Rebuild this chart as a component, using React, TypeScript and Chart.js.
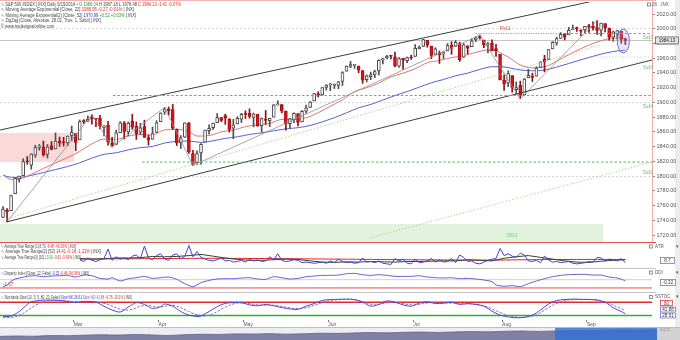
import React, { useEffect, useRef } from 'react';
import { Chart, registerables } from 'chart.js';

Chart.register(...registerables);

// ---------------- DATA ----------------
const MONTH_LABELS = ['Mar', 'Apr', 'May', 'Jun', 'Jul', 'Aug', 'Sep'];
const MONTH_START_INDEX = [18, 39, 60, 81, 102, 124, 145];

const OPEN = [
  1743.82,1753.38,1752.99,1776.01,1796.20,1800.45,1820.12,1814.82,1828.46,1839.03,
  1838.90,1829.24,1841.07,1836.78,1847.66,1845.79,1844.90,1855.12,1857.68,1849.23,
  1874.05,1874.18,1878.52,1877.86,1878.26,1866.15,1869.06,1845.07,1842.81,1858.92,
  1872.25,1860.09,1874.53,1867.67,1859.48,1867.09,1852.11,1850.07,1859.16,1873.96,
  1886.61,1891.43,1890.25,1863.92,1845.48,1852.64,1872.28,1830.65,1818.18,1831.45,
  1846.01,1861.73,1865.79,1872.57,1879.32,1881.97,1877.72,1865.00,1870.78,1877.10,
  1884.39,1885.30,1879.45,1883.69,1868.53,1877.39,1875.27,1880.03,1896.75,1897.13,
  1888.16,1871.19,1876.66,1884.88,1873.34,1888.19,1893.32,1902.01,1911.77,1910.60,
  1920.33,1923.87,1923.07,1923.06,1928.52,1942.41,1948.97,1950.34,1949.37,1943.35,
  1930.80,1934.84,1937.15,1942.73,1957.50,1960.45,1962.92,1961.97,1949.27,1959.89,
  1956.56,1960.79,1962.29,1973.06,1975.88,1984.22,1976.39,1965.10,1966.67,1965.76,
  1969.86,1977.36,1976.35,1979.75,1961.54,1976.93,1975.65,1985.32,1988.07,1984.60,
  1978.25,1980.03,1973.21,1965.14,1929.80,1926.62,1936.34,1917.29,1923.03,1910.35,
  1933.43,1935.73,1935.60,1947.41,1958.87,1958.36,1972.73,1980.46,1986.82,1992.60,
  1991.74,1998.59,2000.54,1997.42,1998.45,2004.07,2003.57,2001.67,1998.00,2007.17,
  2000.73,1988.41,1992.85,1996.74,1986.04,
];
const HIGH = [
  1758.73,1755.79,1774.06,1798.03,1799.94,1823.54,1826.55,1830.25,1841.65,1842.87,
  1847.50,1842.79,1846.87,1858.71,1852.91,1852.65,1854.53,1867.92,1857.68,1876.23,
  1876.53,1881.94,1883.57,1877.87,1882.35,1868.38,1874.40,1852.44,1862.30,1873.76,
  1874.14,1873.49,1883.97,1873.34,1871.87,1875.92,1855.55,1866.63,1875.18,1885.84,
  1893.17,1893.80,1897.28,1864.04,1854.95,1872.43,1872.53,1835.07,1834.19,1844.02,
  1862.31,1869.63,1871.89,1884.89,1879.75,1884.06,1877.72,1877.01,1880.60,1885.20,
  1888.59,1891.33,1885.51,1883.69,1878.83,1889.07,1878.57,1897.13,1902.17,1897.13,
  1888.16,1878.28,1886.00,1884.88,1888.80,1896.33,1901.26,1912.28,1914.46,1920.03,
  1924.03,1925.88,1925.07,1928.63,1941.74,1949.44,1955.55,1950.86,1949.37,1943.35,
  1937.30,1941.15,1943.69,1957.74,1959.87,1963.91,1963.74,1968.17,1960.83,1959.89,
  1961.47,1964.24,1978.58,1976.67,1985.59,1984.22,1976.39,1974.15,1969.84,1968.67,
  1979.85,1982.52,1983.94,1981.80,1979.91,1976.93,1986.24,1989.23,1991.39,1984.60,
  1981.52,1984.85,1978.90,1965.14,1937.35,1942.92,1936.34,1927.91,1928.89,1932.38,
  1944.90,1939.65,1948.41,1955.23,1964.04,1971.99,1982.57,1988.57,1994.76,1993.54,
  2001.95,2005.04,2002.14,1998.55,2003.38,2006.12,2009.28,2011.17,2007.71,2007.17,
  2001.01,1996.66,1997.65,1996.74,1987.18,
];
const LOW = [
  1743.82,1737.92,1752.99,1776.01,1791.83,1800.41,1815.97,1809.22,1825.59,1835.01,
  1826.99,1824.58,1835.60,1836.78,1840.19,1840.66,1841.13,1847.67,1834.44,1849.23,
  1871.11,1874.18,1870.56,1867.04,1863.88,1854.38,1841.86,1839.57,1842.81,1858.92,
  1850.35,1854.63,1863.46,1849.69,1855.96,1852.56,1842.11,1850.07,1859.16,1873.96,
  1883.79,1882.65,1863.26,1841.48,1837.49,1852.38,1830.87,1814.36,1815.80,1816.29,
  1846.01,1856.72,1863.18,1872.57,1873.91,1870.24,1859.70,1850.61,1870.78,1872.69,
  1878.04,1878.50,1866.77,1867.72,1859.79,1870.05,1867.02,1880.03,1896.06,1885.77,
  1862.36,1864.82,1872.42,1868.14,1873.34,1885.39,1893.32,1902.01,1907.30,1909.82,
  1916.64,1915.98,1918.79,1918.60,1922.93,1942.41,1947.16,1946.07,1940.08,1925.78,
  1927.69,1930.91,1933.55,1937.29,1952.26,1959.17,1958.89,1948.34,1947.49,1944.69,
  1953.83,1958.22,1962.29,1972.58,1975.88,1974.88,1959.46,1965.10,1952.86,1959.63,
  1969.86,1965.34,1975.67,1955.59,1960.82,1965.77,1975.65,1982.44,1985.79,1974.37,
  1967.31,1969.95,1962.42,1930.67,1916.37,1921.20,1913.77,1911.45,1904.78,1909.01,
  1933.43,1928.29,1935.60,1947.41,1941.50,1958.36,1972.73,1977.68,1986.82,1984.76,
  1991.74,1998.59,1996.20,1990.52,1994.65,1994.85,1998.14,1992.44,1990.10,1995.60,
  1984.61,1982.99,1985.93,1980.26,1978.48,
];
const CLOSE = [
  1755.20,1751.64,1773.43,1797.02,1799.84,1819.75,1819.26,1829.83,1838.63,1840.76,
  1828.75,1839.78,1836.25,1847.61,1845.12,1845.16,1854.29,1859.45,1845.73,1873.91,
  1873.81,1877.03,1878.04,1877.17,1867.63,1868.20,1846.34,1841.13,1858.83,1872.25,
  1860.77,1872.01,1866.52,1857.44,1865.62,1852.56,1849.04,1857.62,1872.34,1885.52,
  1890.90,1888.77,1865.09,1845.04,1851.96,1872.18,1833.08,1815.69,1830.61,1842.98,
  1862.31,1864.85,1871.89,1879.55,1875.39,1878.61,1863.40,1869.43,1878.33,1883.95,
  1883.68,1881.14,1884.66,1867.72,1878.21,1875.63,1878.48,1896.65,1897.45,1888.53,
  1870.85,1877.86,1885.08,1872.83,1888.03,1892.49,1900.53,1911.91,1909.78,1920.03,
  1923.57,1924.97,1924.24,1927.88,1940.46,1949.44,1951.27,1950.79,1943.89,1930.11,
  1936.16,1937.78,1941.99,1956.98,1959.48,1962.87,1962.61,1949.98,1959.53,1957.22,
  1960.96,1960.23,1973.32,1974.62,1985.44,1977.65,1963.71,1972.83,1964.68,1967.57,
  1977.10,1973.28,1981.57,1958.12,1978.22,1973.63,1983.53,1987.01,1987.98,1978.34,
  1978.91,1969.95,1970.07,1930.67,1925.15,1938.99,1920.21,1920.24,1909.57,1931.59,
  1936.92,1933.75,1946.72,1955.18,1955.06,1971.74,1981.60,1986.51,1992.37,1988.40,
  1997.92,2000.02,2000.12,1996.74,2003.37,2002.28,2000.72,1997.65,2007.71,2001.54,
  1988.44,1995.69,1997.45,1985.54,1984.13,
];

// [bar index, value]
const EMA22 = [
  [0,1801.6],[2,1795.2],[4,1795.8],[7,1802.4],[10,1810.4],[13,1817.8],[16,1825.1],[19,1833.5],
  [22,1843.8],[25,1850.2],[28,1849.9],[31,1854.3],[34,1856.4],[37,1855.7],[40,1862.7],[43,1863.3],
  [46,1860.5],[48,1854.3],[51,1855.0],[54,1860.0],[57,1862.4],[60,1867.2],[63,1869.6],[66,1871.5],
  [69,1876.9],[72,1877.2],[75,1879.1],[78,1886.0],[81,1894.8],[84,1903.5],[87,1914.7],[90,1919.9],
  [93,1926.2],[96,1934.7],[99,1939.7],[102,1945.8],[105,1953.8],[108,1957.0],[111,1960.8],[114,1963.6],
  [117,1967.9],[120,1971.2],[122,1971.0],[123,1967.5],[125,1961.7],[128,1950.9],[131,1946.9],[134,1948.2],
  [137,1955.9],[140,1964.8],[143,1973.0],[146,1979.9],[149,1985.3],[152,1987.4],[154,1986.95],
];
const EMA52 = [
  [0,1801.2],[2,1798.3],[4,1798.3],[7,1801.0],[10,1804.8],[13,1808.8],[16,1813.0],[19,1818.1],
  [22,1824.4],[25,1829.5],[28,1831.6],[31,1835.6],[34,1838.6],[37,1840.2],[40,1844.8],[43,1847.1],
  [46,1847.6],[49,1845.7],[52,1847.9],[55,1851.2],[58,1853.3],[61,1856.5],[64,1858.7],[67,1861.5],
  [70,1864.1],[73,1865.7],[76,1868.7],[79,1873.6],[82,1879.2],[85,1885.8],[88,1892.6],[91,1897.2],
  [94,1903.3],[97,1909.3],[100,1914.7],[103,1920.7],[106,1926.6],[109,1931.1],[112,1936.1],[115,1939.8],
  [118,1944.8],[121,1948.4],[123,1948.5],[125,1947.3],[128,1944.0],[131,1942.9],[134,1943.9],[137,1947.9],
  [140,1952.8],[143,1957.8],[146,1962.6],[149,1966.9],[152,1969.9],[154,1970.99],
];

const ATR1_START = 19;
const ATR1 = [
  14,11,17,13,11,14,16,32,13,19,
  15,17,14,20,22,16,37,17,14,21,
  24,15,13,22,24,15,20,38,19,28,
  18,15,13,12,14,17,12,13,10,11,
  13,10,15,12,14,11,12,19,14,24,
  13,11,12,14,13,9,10,9,8,9,
  10,8,12,9,15,11,9,10,8,9,
  17,10,11,9,12,8,7,6,16,12,
  15,8,7,15,9,10,12,16,10,14,
  10,11,16,9,22,18,11,12,8,7,
  10,13,15,16,33,21,24,20,18,25,
  22,12,11,13,9,20,14,10,11,9,
  10,11,8,7,8,9,11,10,18,17,
  12,15,14,12,16,8.7,
];
const ATR10 = [
  [19,16],[22,15],[25,15.5],[28,17],[31,17],[34,17.5],[37,19.5],[40,19],[43,19.5],[46,21],
  [49,23],[52,20],[55,17],[58,14.5],[61,13],[64,13],[67,14],[70,15],[73,14.5],[76,12],
  [79,10],[82,9.5],[85,10.5],[88,10],[91,11],[94,10.5],[97,10],[100,11],[103,11],[106,11.5],
  [109,12],[112,12],[115,14],[118,13],[121,12],[124,16.5],[127,19],[130,21],[133,18],[136,15],
  [139,12],[142,10],[145,9.5],[148,11.5],[151,13],[154,13.9],
];
const ATR52 = [
  [19,15.2],[35,15.8],[50,16.4],[65,16.0],[80,15.2],[95,14.3],[110,13.6],[122,13.4],[132,14.2],[145,14.5],[154,14.41],
];

const DISPARITY = [
  [0,-2.2],[1,-1.6],[2,-0.5],[3,0.2],[4,0.5],[6,1.0],[8,1.2],[10,0.9],[12,1.1],[14,1.2],
  [16,1.3],[18,0.8],[20,1.4],[22,1.2],[24,0.4],[26,0.2],[27,0.6],[29,-0.4],[31,0.3],[33,0.6],
  [35,1.0],[37,0.4],[39,0.6],[41,0.8],[43,0.1],[45,-1.2],[47,-2.1],[49,-0.9],[51,-0.2],[53,0.2],
  [55,0.3],[57,0.3],[59,0.5],[61,0.6],[63,0.2],[65,0.1],[67,0.9],[69,0.6],[71,0.2],[73,0.4],
  [75,0.9],[77,1.1],[79,1.3],[81,1.3],[83,1.4],[85,1.8],[87,1.9],[89,1.5],[91,1.3],[93,1.5],
  [95,1.3],[97,1.0],[99,1.0],[101,1.0],[103,1.2],[105,0.8],[107,0.6],[109,0.5],[111,0.6],[113,0.3],
  [115,0.4],[117,0.2],[119,-0.1],[121,-0.6],[122,-1.6],[124,-2.0],[126,-1.8],[128,-2.1],[130,-1.2],[132,-0.4],
  [134,0.3],[136,0.9],[138,1.3],[140,1.5],[142,1.6],[144,1.6],[146,1.4],[148,1.4],[150,0.8],[152,0.5],[154,-0.3],
];
const DISP_LOWER = -2.5;

const STOCH_K = [
  [0,15],[2,18],[4,38],[6,70],[7,82],[9,88],[12,90],[15,86],[18,78],[20,84],
  [23,80],[25,62],[27,45],[29,36],[31,58],[33,78],[35,70],[37,52],[39,60],[40,72],
  [42,62],[44,38],[46,22],[48,16],[49,18],[51,38],[53,60],[55,75],[57,78],[59,78],
  [61,68],[63,64],[65,70],[67,64],[69,56],[71,50],[73,48],[75,62],[77,74],[79,88],
  [81,92],[83,93],[85,94],[87,92],[89,80],[91,62],[93,70],[95,86],[97,80],[99,68],
  [101,62],[103,76],[105,82],[107,74],[109,76],[111,80],[113,70],[115,74],[117,70],[119,62],
  [121,40],[123,22],[125,14],[127,10],[129,12],[131,22],[133,45],[135,72],[137,88],[139,92],
  [141,94],[143,93],[145,92],[147,90],[149,80],[151,55],[153,38],[154,28.61],
];
const STOCH_D = [
  [0,10],[3,14],[5,30],[7,55],[9,75],[11,85],[14,88],[17,84],[20,82],[23,82],
  [26,70],[28,55],[30,45],[32,48],[34,62],[36,66],[38,58],[40,62],[42,66],[44,55],
  [46,38],[48,24],[50,18],[52,28],[54,48],[56,66],[58,76],[60,76],[62,70],[64,67],
  [66,67],[68,64],[70,58],[72,52],[74,52],[76,60],[78,72],[80,84],[82,90],[84,92],
  [86,93],[88,88],[90,76],[92,68],[94,74],[96,80],[98,78],[100,70],[102,68],[104,74],
  [106,78],[108,76],[110,76],[112,76],[114,73],[116,72],[118,68],[120,58],[122,42],[124,26],
  [126,16],[128,12],[130,14],[132,24],[134,44],[136,66],[138,82],[140,90],[142,92],[144,93],
  [146,92],[148,87],[150,75],[152,58],[154,41.88],
];
const STOCH_UPPER = 80;
const STOCH_LOWER = 20;

const NAV_VALUES = [
  28,31,29,34,33,37,40,38,42,39,35,41,44,43,47,46,49,45,48,52,
  51,54,57,55,59,61,58,62,65,63,67,69,66,70,72,71,74,76,75,78,
];
const NAV_WINDOW_START = 32.95;

// annotations, in data units [bar index, price]
const CHANNEL_UPPER = [[-0.74, 1862.5], [160.6, 2055]];
const CHANNEL_LOWER = [[1, 1737.9], [160.6, 1957.6]];
const TREND_DOTTED = [
  [[0, 1740.4], [147.8, 1977.9]],
  [[90.8, 1716], [160.6, 1819]],
];
const ZIGZAG = [[1,1737.92],[22,1883.57],[27,1839.57],[40,1893.17],[47,1814.36],[118,1991.39],[128,1904.78],[147,2011.17]];
const LEVELS = [
  { name: 'Rd1', price: 1993.5, from: 117, to: 140.5, kind: 'res' },
  { name: 'Sd1', price: 1993.5, from: 140.5, to: 160.6, kind: 'sup' },
  { name: 'Sd3', price: 1961.6, from: 146.5, to: 160.6, kind: 'minor' },
  { name: 'Sd4', price: 1909.4, from: 27.2, to: 160.6, kind: 'sup' },
  { name: 'Sd2', price: 1819.0, from: 34.4, to: 160.6, kind: 'sup' },
];
const PINK_ZONE = { from: -0.74, to: 17.6, top: 1858.5, bottom: 1819 };
const GREEN_ZONE = { from: -0.74, to: 148.5, top: 1735, bottom: 1700, label: 'SBD1', labelAt: 126 };
const ELLIPSE = { x: 153.5, p: 1983.4, rx: 1.5, rp: 16.3 };

// ---------------- STYLE / LAYOUT ----------------
const X_MIN = -0.74;
const X_MAX = 160.6;
const P_MIN = 1710.5;
const P_MAX = 2036.3;
const FONT = "'Liberation Sans', Arial, sans-serif";
const C_DARK = '#444444';
const C_RED = '#e02a2a';
const C_GREEN = '#2f9a2f';
const C_BLUE = '#3434d0';
const C_PURPLE = '#8a4fc4';

type Seg = [string, string];

function drawSegs(ctx: any, x: number, y: number, segs: Seg[], size: number, width?: number) {
  ctx.save();
  ctx.font = `${size}px ${FONT}`;
  ctx.textBaseline = 'middle';
  ctx.textAlign = 'left';
  let total = 0;
  segs.forEach((s) => { total += ctx.measureText(s[0]).width; });
  const k = width ? width / total : 1;
  ctx.translate(x, y);
  ctx.scale(k, 1);
  let cx = 0;
  segs.forEach(([t, c]) => {
    ctx.fillStyle = c;
    ctx.fillText(t, cx, 0);
    cx += ctx.measureText(t).width;
  });
  ctx.restore();
}

function polyline(ctx: any, X: any, Y: any, pts: number[][], color: string, width: number, dash: number[] = []) {
  ctx.save();
  ctx.strokeStyle = color;
  ctx.lineWidth = width;
  ctx.setLineDash(dash);
  ctx.beginPath();
  pts.forEach(([i, p], k) => {
    if (k === 0) ctx.moveTo(X(i), Y(p));
    else ctx.lineTo(X(i), Y(p));
  });
  ctx.stroke();
  ctx.restore();
}

function axisTag(ctx: any, y: number, label: string) {
  ctx.save();
  ctx.strokeStyle = '#777';
  ctx.lineWidth = 0.8;
  ctx.strokeRect(649.5, y - 1.5, 3, 3);
  ctx.font = `4.5px ${FONT}`;
  ctx.fillStyle = '#555';
  ctx.textBaseline = 'middle';
  ctx.fillText(label, 655, y);
  ctx.fillText('\u25BE', 676, y);
  ctx.restore();
}

function valueBox(ctx: any, x: number, y: number, w: number, h: number, text: string, stroke: string, textColor = '#333', fill = '#ffffff') {
  ctx.save();
  ctx.fillStyle = fill;
  ctx.fillRect(x, y, w, h);
  ctx.strokeStyle = stroke;
  ctx.lineWidth = 0.8;
  ctx.strokeRect(x + 0.5, y + 0.5, w - 1, h - 1);
  ctx.font = `4.5px ${FONT}`;
  ctx.fillStyle = textColor;
  ctx.textAlign = 'center';
  ctx.textBaseline = 'middle';
  ctx.fillText(text, x + w / 2, y + h / 2 + 0.3);
  ctx.restore();
}

const baseOptions = (padRight: number) => ({
  responsive: false,
  animation: false,
  devicePixelRatio: 1,
  events: [],
  layout: { padding: { left: 0, right: padRight, top: 0, bottom: 0 } },
  plugins: { legend: { display: false }, tooltip: { enabled: false } },
});

const hiddenX = () => ({ type: 'linear', min: X_MIN, max: X_MAX, offset: false, display: false });

// ---------------- PRICE PANEL ----------------
const priceDeco = {
  id: 'priceDeco',
  beforeDatasetsDraw(chart: any) {
    const { ctx, chartArea: a, scales } = chart;
    const X = (v: number) => scales.x.getPixelForValue(v);
    const Y = (v: number) => scales.y.getPixelForValue(v);
    ctx.save();
    ctx.beginPath();
    ctx.rect(a.left, a.top, a.right - a.left, a.bottom - a.top);
    ctx.clip();
    ctx.fillStyle = '#f9d9d9';
    ctx.fillRect(X(PINK_ZONE.from), Y(PINK_ZONE.top), X(PINK_ZONE.to) - X(PINK_ZONE.from), Y(PINK_ZONE.bottom) - Y(PINK_ZONE.top));
    ctx.fillStyle = '#e3f2df';
    ctx.fillRect(X(GREEN_ZONE.from), Y(GREEN_ZONE.top), X(GREEN_ZONE.to) - X(GREEN_ZONE.from), Y(GREEN_ZONE.bottom) - Y(GREEN_ZONE.top));
    ctx.font = `4.5px ${FONT}`;
    ctx.fillStyle = '#8ccc8c';
    ctx.textAlign = 'center';
    ctx.textBaseline = 'middle';
    ctx.fillText(GREEN_ZONE.label, X(GREEN_ZONE.labelAt), Y(1718.5));
    // last price line
    const ly = Math.round(Y(CLOSE[CLOSE.length - 1])) + 0.5;
    ctx.strokeStyle = '#c4c4c4';
    ctx.lineWidth = 1;
    ctx.beginPath();
    ctx.moveTo(a.left, ly);
    ctx.lineTo(a.right, ly);
    ctx.stroke();
    ctx.restore();
  },
  afterDatasetsDraw(chart: any) {
    const { ctx, chartArea: a, scales } = chart;
    const X = (v: number) => scales.x.getPixelForValue(v);
    const Y = (v: number) => scales.y.getPixelForValue(v);
    ctx.save();
    ctx.beginPath();
    ctx.rect(a.left, a.top, a.right - a.left, a.bottom - a.top);
    ctx.clip();
    TREND_DOTTED.forEach((l) => polyline(ctx, X, Y, l, '#9fcf8c', 1, [1.2, 1.8]));
    polyline(ctx, X, Y, ZIGZAG, '#909090', 0.8);
    polyline(ctx, X, Y, CHANNEL_UPPER, '#3c3c3c', 1);
    polyline(ctx, X, Y, CHANNEL_LOWER, '#3c3c3c', 1);
    LEVELS.forEach((lv) => {
      const pts = [[lv.from, lv.price], [lv.to, lv.price]];
      if (lv.kind === 'res') polyline(ctx, X, Y, pts, '#e36a6a', 1, [1, 1.5]);
      else if (lv.kind === 'minor') polyline(ctx, X, Y, pts, '#a6d8a0', 1, [1, 1.8]);
      else polyline(ctx, X, Y, pts, '#5cb85c', 1, [2.5, 2]);
    });
    // ellipse highlight
    ctx.beginPath();
    ctx.ellipse(X(ELLIPSE.x), Y(ELLIPSE.p), X(ELLIPSE.x + ELLIPSE.rx) - X(ELLIPSE.x), Y(ELLIPSE.p) - Y(ELLIPSE.p + ELLIPSE.rp), 0, 0, Math.PI * 2);
    ctx.fillStyle = 'rgba(160,170,235,0.28)';
    ctx.fill();
    ctx.strokeStyle = '#6a74cf';
    ctx.lineWidth = 1;
    ctx.stroke();
    ctx.restore();
  },
  afterDraw(chart: any) {
    const { ctx, chartArea: a, scales } = chart;
    const X = (v: number) => scales.x.getPixelForValue(v);
    const Y = (v: number) => scales.y.getPixelForValue(v);
    ctx.save();
    ctx.strokeStyle = '#f0b4b4';
    ctx.lineWidth = 1;
    ctx.beginPath();
    ctx.moveTo(0, 0.5);
    ctx.lineTo(656, 0.5);
    ctx.stroke();
    ctx.restore();
    drawSegs(ctx, 1, 4.5, [['\u223F ', '#777'], ['S&P 500 INDEX [.INX] Daily 9/15/2014 ', C_DARK], ['\u2022 O 1986.04 ', C_GREEN], ['H 1987.18 L 1978.48 ', C_DARK], ['C 1984.13 -1.41 -0.07%', C_RED]], 5, 180);
    drawSegs(ctx, 1, 10, [['\u223F ', '#777'], ['Moving Average Exponential [Close, 22] ', C_DARK], ['1986.95 -0.27 -0.01% ', C_RED], ['[.INX]', C_DARK]], 5, 133);
    drawSegs(ctx, 1, 15.5, [['\u223F ', '#777'], ['Moving Average Exponential(2) [Close, 52] ', C_DARK], ['1970.99 ', C_BLUE], ['+0.52 +0.03% ', C_GREEN], ['[.INX]', C_DARK]], 5, 135);
    drawSegs(ctx, 1, 21, [['\u223F ', '#777'], ['ZigZag [Close, Absolute, 28.02, True, 1, Solid] [.INX]', C_DARK]], 5, 100);
    drawSegs(ctx, 1, 26.5, [['\u00A9 www.tradesignalonline.com', C_DARK]], 5, 53);
    // right axis header
    ctx.save();
    ctx.strokeStyle = '#777';
    ctx.lineWidth = 0.8;
    ctx.strokeRect(647.5, 3, 3, 3);
    ctx.font = `4.5px ${FONT}`;
    ctx.fillStyle = '#555';
    ctx.textBaseline = 'middle';
    ctx.fillText('26', 652, 4.5);
    ctx.fillText('.INX', 660, 4.5);
    ctx.restore();
    // last price box
    const ly = Y(CLOSE[CLOSE.length - 1]);
    valueBox(ctx, a.right + 3, ly - 4, 24, 8, CLOSE[CLOSE.length - 1].toFixed(2), '#666', '#222', '#e4e4e4');
    // level labels
    ctx.save();
    ctx.font = `6px ${FONT}`;
    ctx.textBaseline = 'middle';
    LEVELS.forEach((lv) => {
      if (lv.kind === 'res') {
        ctx.fillStyle = '#e05a5a';
        ctx.textAlign = 'center';
        ctx.fillText(lv.name, X(124.3), Y(lv.price) - 5);
      } else {
        ctx.fillStyle = '#6cc06c';
        ctx.textAlign = 'right';
        ctx.fillText(lv.name, a.right + 1.5, Y(lv.price) + (lv.name === 'Sd1' ? 3.8 : 10.5));
      }
    });
    ctx.restore();
  },
};

function buildPrice(canvas: HTMLCanvasElement) {
  const up = CLOSE.map((c, i) => c >= OPEN[i]);
  return new Chart(canvas, {
    type: 'bar',
    data: {
      datasets: [
        { type: 'line', data: EMA22.map(([x, y]) => ({ x, y })), borderColor: '#e57372', borderWidth: 1, pointRadius: 0, cubicInterpolationMode: 'monotone', order: 5 },
        { type: 'line', data: EMA52.map(([x, y]) => ({ x, y })), borderColor: '#5b5ed6', borderWidth: 1, pointRadius: 0, cubicInterpolationMode: 'monotone', order: 6 },
        {
          type: 'bar',
          data: OPEN.map((o, i) => ({ x: i, y: [o, CLOSE[i]] })),
          backgroundColor: up.map((u) => (u ? '#ffffff' : '#d3161d')),
          borderColor: up.map((u) => (u ? '#4a4a4a' : '#a90f15')),
          borderWidth: 1,
          borderSkipped: false,
          barThickness: 3,
          grouped: false,
          minBarLength: 1,
          order: 1,
        },
        {
          type: 'bar',
          data: LOW.map((l, i) => ({ x: i, y: [l, HIGH[i]] })),
          backgroundColor: up.map((u) => (u ? '#505050' : '#8c1015')),
          borderWidth: 0,
          barThickness: 1,
          grouped: false,
          order: 2,
        },
      ],
    },
    options: {
      ...baseOptions(0),
      layout: { padding: { left: 0, right: 0, top: 2, bottom: 0 } },
      scales: {
        x: hiddenX(),
        y: {
          type: 'linear',
          position: 'right',
          min: P_MIN,
          max: P_MAX,
          beginAtZero: false,
          afterFit: (s: any) => { s.width = 28; s.paddingTop = 0; s.paddingBottom = 0; },
          ticks: {
            stepSize: 20,
            maxTicksLimit: 30,
            includeBounds: false,
            autoSkip: false,
            padding: 1.5,
            color: '#555',
            font: { size: 5.5, family: FONT },
            callback: (v: any) => Number(v).toFixed(2),
          },
          grid: {
            color: (c: any) => (c.tick && Math.round(c.tick.value) % 100 === 0 ? '#d6d6d6' : 'rgba(0,0,0,0)'),
            tickColor: '#888',
            tickLength: 3,
            lineWidth: 1,
          },
          border: { display: true, color: '#f0a8a8', dash: [2, 2] },
        },
      },
    } as any,
    plugins: [priceDeco],
  } as any);
}

// ---------------- LOWER PANELS ----------------
function panelDeco(key: string, cfg: any) {
  return {
    id: 'deco_' + key,
    beforeDatasetsDraw(chart: any) {
      const { ctx, chartArea: a, scales } = chart;
      cfg.levels.forEach((l: any) => {
        const y = scales.y.getPixelForValue(l.value);
        ctx.save();
        ctx.strokeStyle = l.color;
        ctx.lineWidth = l.width;
        ctx.beginPath();
        ctx.moveTo(a.left, y);
        ctx.lineTo(a.right, y);
        ctx.stroke();
        ctx.restore();
      });
    },
    afterDraw(chart: any) {
      const { ctx } = chart;
      ctx.save();
      ctx.strokeStyle = cfg.sepColor;
      ctx.lineWidth = 1;
      ctx.beginPath();
      ctx.moveTo(0, 0.5);
      ctx.lineTo(656, 0.5);
      ctx.stroke();
      ctx.restore();
      cfg.titles.forEach((t: any) => drawSegs(ctx, 1, t.y, t.segs, 5, t.w));
      cfg.right(ctx);
    },
  };
}

const lineDs = (pts: number[][], color: string, width = 1, dash: number[] = []) => ({
  data: pts.map(([x, y]) => ({ x, y })),
  borderColor: color,
  borderWidth: width,
  borderDash: dash,
  pointRadius: 0,
  tension: 0,
});

function buildATR(canvas: HTMLCanvasElement) {
  const atr1 = ATR1.map((v, k) => [ATR1_START + k, v]);
  return new Chart(canvas, {
    type: 'line',
    data: {
      datasets: [
        lineDs(atr1, '#4242d2', 1),
        lineDs(ATR10, '#3b3f2a', 1),
        { ...lineDs(ATR52, '#e02424', 1), tension: 0.3 },
      ],
    },
    options: {
      ...baseOptions(28),
      scales: { x: hiddenX(), y: { type: 'linear', min: 0, max: 44, display: false } },
    } as any,
    plugins: [panelDeco('atr', {
      sepColor: '#e25050',
      levels: [],
      titles: [
        { y: 4.7, w: 75, segs: [['\u223F ', '#777'], ['Average True Range [1] ', C_DARK], ['8.70 ', C_BLUE], ['-6.48 -46.36% ', C_RED], ['[.INX]', C_DARK]] },
        { y: 10, w: 100, segs: [['\u223F ', '#777'], ['Average True Range(2) [52] ', C_DARK], ['14.41 ', C_RED], ['-0.18 -1.22% ', C_RED], ['[.INX]', C_DARK]] },
        { y: 15.7, w: 80, segs: [['\u223F ', '#777'], ['Average True Range(3) [10] ', C_DARK], ['13.90 ', C_GREEN], ['-0.61 -0.43% ', C_RED], ['[.INX]', C_DARK]] },
      ],
      right: (ctx: any) => {
        axisTag(ctx, 4.5, 'ATR');
        valueBox(ctx, 660, 15, 15, 7, '8.7', '#7474d4');
      },
    })],
  } as any);
}

function buildDisp(canvas: HTMLCanvasElement) {
  return new Chart(canvas, {
    type: 'line',
    data: { datasets: [{ ...lineDs(DISPARITY, '#5d5fd8', 1), tension: 0.25 }] },
    options: {
      ...baseOptions(28),
      scales: { x: hiddenX(), y: { type: 'linear', min: -3.72, max: 3.53, display: false } },
    } as any,
    plugins: [panelDeco('disp', {
      sepColor: '#c4c4c4',
      levels: [
        { value: 0, color: '#d2d2d2', width: 1 },
        { value: DISP_LOWER, color: '#e05050', width: 1 },
      ],
      titles: [
        { y: 5.3, w: 88, segs: [['\u223F ', '#777'], ['Disparity Index [Close, 22, False] ', C_DARK], ['-0.32 ', C_BLUE], ['-0.46 -96.36% ', C_RED], ['[.INX]', C_DARK]] },
      ],
      right: (ctx: any) => {
        axisTag(ctx, 4.5, 'DDI');
        valueBox(ctx, 660, 11, 16, 7, '-0.32', '#7474d4');
        ctx.save();
        ctx.font = `4.5px ${FONT}`;
        ctx.fillStyle = C_RED;
        ctx.textBaseline = 'middle';
        ctx.fillText('-1.67', 3, 17);
        ctx.restore();
      },
    })],
  } as any);
}

function buildStoch(canvas: HTMLCanvasElement) {
  return new Chart(canvas, {
    type: 'line',
    data: {
      datasets: [
        { ...lineDs(STOCH_K, '#4a4ad4', 1), tension: 0.3 },
        { ...lineDs(STOCH_D, '#9a62c8', 1, [2.5, 1.5]), tension: 0.3 },
      ],
    },
    options: {
      ...baseOptions(28),
      scales: {
        x: {
          type: 'linear',
          min: X_MIN,
          max: X_MAX,
          offset: false,
          position: 'bottom',
          afterBuildTicks: (s: any) => { s.ticks = MONTH_START_INDEX.map((i) => ({ value: i - 0.5 })); },
          afterFit: (s: any) => { s.height = 7; s.paddingLeft = 0; s.paddingRight = 0; },
          ticks: {
            autoSkip: false,
            maxRotation: 0,
            minRotation: 0,
            padding: 0,
            align: 'start',
            color: '#555',
            font: { size: 5, family: FONT },
            callback: (_v: any, i: number) => MONTH_LABELS[i],
          },
          grid: { display: true, drawOnChartArea: false, drawTicks: true, tickLength: 2, tickColor: '#777' },
          border: { display: false },
        },
        y: { type: 'linear', min: 0, max: 126, display: false },
      },
    } as any,
    plugins: [panelDeco('stoch', {
      sepColor: '#c4c4c4',
      levels: [
        { value: STOCH_UPPER, color: '#e22a2a', width: 1.5 },
        { value: STOCH_LOWER, color: '#2fb02f', width: 1.5 },
      ],
      titles: [
        { y: 5.7, w: 131, segs: [['\u223F ', '#777'], ['Stochastic Slow [10, 5, 5, 80, 20, False] ', C_DARK], ['Slow %K 28.61 ', C_BLUE], ['Slow %D 41.88 ', C_PURPLE], ['-6.76 -19.1% ', C_RED], ['[.INX]', C_DARK]] },
      ],
      right: (ctx: any) => {
        axisTag(ctx, 5, 'SSTOC');
        valueBox(ctx, 660, 8, 13, 6, '80', '#e03a3a', '#c02020');
        valueBox(ctx, 660, 14.5, 16, 6, '41.88', '#7474d4');
        valueBox(ctx, 660, 20.5, 16, 6, '28.61', '#7474d4');
      },
    })],
  } as any);
}

// ---------------- NAVIGATOR ----------------
const navDeco = {
  id: 'navDeco',
  beforeDatasetsDraw(chart: any) {
    const { ctx, chartArea: a } = chart;
    ctx.save();
    ctx.fillStyle = '#ececf2';
    ctx.fillRect(a.left, a.top, a.right - a.left, a.bottom - a.top);
    ctx.restore();
  },
  afterDatasetsDraw(chart: any) {
    const { ctx, chartArea: a, scales } = chart;
    const x0 = scales.x.getPixelForValue(NAV_WINDOW_START);
    ctx.save();
    ctx.fillStyle = 'rgba(50,112,214,0.82)';
    ctx.fillRect(x0, a.top, a.right - x0, a.bottom - a.top);
    ctx.fillStyle = '#d2d2d2';
    ctx.fillRect(a.right, 0, 680 - a.right, chart.height);
    ctx.strokeStyle = '#bdbdbd';
    ctx.lineWidth = 1;
    ctx.beginPath();
    ctx.moveTo(0, 0.5);
    ctx.lineTo(680, 0.5);
    ctx.stroke();
    ctx.font = `4px ${FONT}`;
    ctx.fillStyle = '#666';
    ctx.textBaseline = 'middle';
    ctx.fillText('\u2261 \u25A1 \u25A1', 660, 3);
    ctx.restore();
  },
};

function buildNav(canvas: HTMLCanvasElement) {
  return new Chart(canvas, {
    type: 'line',
    data: {
      datasets: [{
        data: NAV_VALUES.map((v, i) => ({ x: i, y: v })),
        borderColor: '#5d6188',
        backgroundColor: '#7e81a3',
        borderWidth: 0.8,
        fill: 'origin',
        pointRadius: 0,
        tension: 0.2,
      }],
    },
    options: {
      ...baseOptions(23),
      scales: {
        x: { type: 'linear', min: 0, max: NAV_VALUES.length - 1, display: false },
        y: { type: 'linear', min: 0, max: 100, display: false },
      },
    } as any,
    plugins: [navDeco],
  } as any);
}

// ---------------- APP ----------------
export default function App() {
  const priceRef = useRef<HTMLCanvasElement>(null);
  const atrRef = useRef<HTMLCanvasElement>(null);
  const dispRef = useRef<HTMLCanvasElement>(null);
  const stochRef = useRef<HTMLCanvasElement>(null);
  const navRef = useRef<HTMLCanvasElement>(null);

  useEffect(() => {
    document.body.style.margin = '0';
    const charts = [
      buildPrice(priceRef.current as HTMLCanvasElement),
      buildATR(atrRef.current as HTMLCanvasElement),
      buildDisp(dispRef.current as HTMLCanvasElement),
      buildStoch(stochRef.current as HTMLCanvasElement),
      buildNav(navRef.current as HTMLCanvasElement),
    ];
    return () => charts.forEach((c) => c.destroy());
  }, []);

  const cv = (top: number, h: number): any => ({ position: 'absolute', left: 0, top, width: 680, height: h, display: 'block' });

  return (
    <div style={{ position: 'fixed', left: 0, top: 0, width: 680, height: 340, background: '#ffffff', overflow: 'hidden' }}>
      <div style={{ position: 'absolute', left: 675, top: 0, width: 5, height: 327, background: '#ececec' }} />
      <canvas ref={priceRef} width={680} height={242} style={cv(0, 242)} />
      <canvas ref={atrRef} width={680} height={26} style={cv(242, 26)} />
      <canvas ref={dispRef} width={680} height={24} style={cv(268, 24)} />
      <canvas ref={stochRef} width={680} height={35} style={cv(292, 35)} />
      <canvas ref={navRef} width={680} height={13} style={cv(327, 13)} />
    </div>
  );
}
